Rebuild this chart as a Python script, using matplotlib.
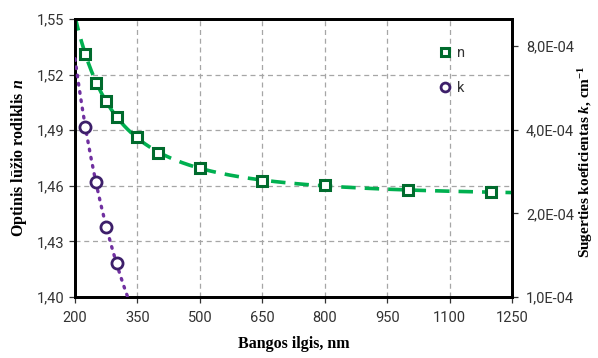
import numpy as np
import matplotlib
matplotlib.use("Agg")
import matplotlib.pyplot as plt
from matplotlib.ticker import FixedLocator, FuncFormatter, NullLocator

plt.rcParams['mathtext.fontset'] = 'custom'
plt.rcParams['mathtext.rm'] = 'Liberation Serif:bold'
plt.rcParams['mathtext.it'] = 'Liberation Serif:bold:italic'
plt.rcParams['mathtext.bf'] = 'Liberation Serif:bold'

# data
wl_n = [225, 250, 275, 300, 350, 400, 500, 650, 800, 1000, 1200]
n_vals = [1.531, 1.5156, 1.506, 1.4973, 1.4863, 1.4775, 1.4698, 1.4626, 1.4603, 1.4576, 1.4566]
wl_k = [225, 250, 275, 300]
k_vals = [4.09e-4, 2.60e-4, 1.79e-4, 1.32e-4]
x_ticks = [200, 350, 500, 650, 800, 950, 1100, 1250]
yl_ticks = [1.40, 1.43, 1.46, 1.49, 1.52, 1.55]
yr_ticks = [1e-4, 2e-4, 4e-4, 8e-4]

green_line = '#00b050'
green_mk = '#006b2d'
purple_line = '#7030a0'
purple_mk = '#3d1f6a'
tick_col = '#333333'

fig = plt.figure(figsize=(5.98, 3.58), dpi=100)
ax = fig.add_axes([75/598, 1-297/358, (512-75)/598, (297-19)/358])
ax2 = ax.twinx()

# Cauchy trendline for n: n = A + B/lambda^2
wl_n_a = np.array(wl_n, float)
B, A = np.polyfit(1/wl_n_a**2, np.array(n_vals), 1)
xf = np.linspace(200, 1250, 400)
ax.plot(xf, A + B/xf**2, color=green_line, lw=2.6, ls=(0, (4, 2.5)), zorder=3)
ax.plot(wl_n, n_vals, ls='none', marker='s', ms=7.5, mfc='white', mec=green_mk, mew=2.2, zorder=4, label='n')

# exponential trendline for k: log10 k linear in 1/lambda
wl_k_a = np.array(wl_k, float)
D, C = np.polyfit(1/wl_k_a, np.log10(np.array(k_vals)), 1)
xk = np.linspace(200, 340, 200)
ax2.plot(xk, 10**(C + D/xk), color=purple_line, lw=2.4, ls=(0, (0.5, 2.0)), dash_capstyle='round', zorder=3)
ax2.plot(wl_k, k_vals, ls='none', marker='o', ms=8, mfc='white', mec=purple_mk, mew=2.0, zorder=4, label='k')

ax.set_xlim(200, 1250)
ax.set_ylim(1.40, 1.55)
ax2.set_yscale('log')
ax2.set_ylim(1e-4, 1e-3)

ax.xaxis.set_major_locator(FixedLocator(x_ticks))
ax.yaxis.set_major_locator(FixedLocator(yl_ticks))
ax.yaxis.set_major_formatter(FuncFormatter(lambda v, p: f"{v:.2f}".replace('.', ',')))
ax2.yaxis.set_major_locator(FixedLocator(yr_ticks))
ax2.yaxis.set_minor_locator(NullLocator())
def efmt(v, p):
    m, e = f"{v:.1E}".split('E')
    return f"{m.replace('.', ',')}E{e[0]}{e[1:].zfill(2)}"
ax2.yaxis.set_major_formatter(FuncFormatter(efmt))

ax.grid(True, color='#a6a6a6', ls=(0, (4, 3)), lw=0.9)
ax.set_axisbelow(True)

for a in (ax, ax2):
    for s in a.spines.values():
        s.set_linewidth(2.0)
        s.set_color('black')
    a.tick_params(labelsize=10.5, colors=tick_col, length=4, width=0.9, direction='out')
    for lab in a.get_xticklabels() + a.get_yticklabels():
        lab.set_fontfamily('Roboto')
ax.tick_params(axis='x', pad=6)
ax2.tick_params(axis='y', pad=6)

ax.set_xlabel('Bangos ilgis, nm', family='Liberation Serif', weight='bold', fontsize=11.5, labelpad=8)
ax.set_ylabel(r'Optinis lūžio rodiklis $n$', family='Liberation Serif', weight='bold', fontsize=11.5, labelpad=6)
fig.text(586/598, 1-162/358, r'Sugerties koeficientas $k$, cm$^{-1}$', rotation=90, va='center', ha='center',
         family='Liberation Serif', weight='bold', fontsize=11)

h1, l1 = ax.get_legend_handles_labels()
h2, l2 = ax2.get_legend_handles_labels()
leg = ax2.legend(h1 + h2, l1 + l2, loc='upper left', bbox_to_anchor=(0.82, 0.925), frameon=False,
                 handlelength=0.8, handletextpad=0.4, labelspacing=1.45, borderaxespad=0,
                 prop={'family': 'Roboto', 'size': 10.5}, markerscale=0.8)
for t in leg.get_texts():
    t.set_color(tick_col)

fig.savefig('out.png', dpi=100)
